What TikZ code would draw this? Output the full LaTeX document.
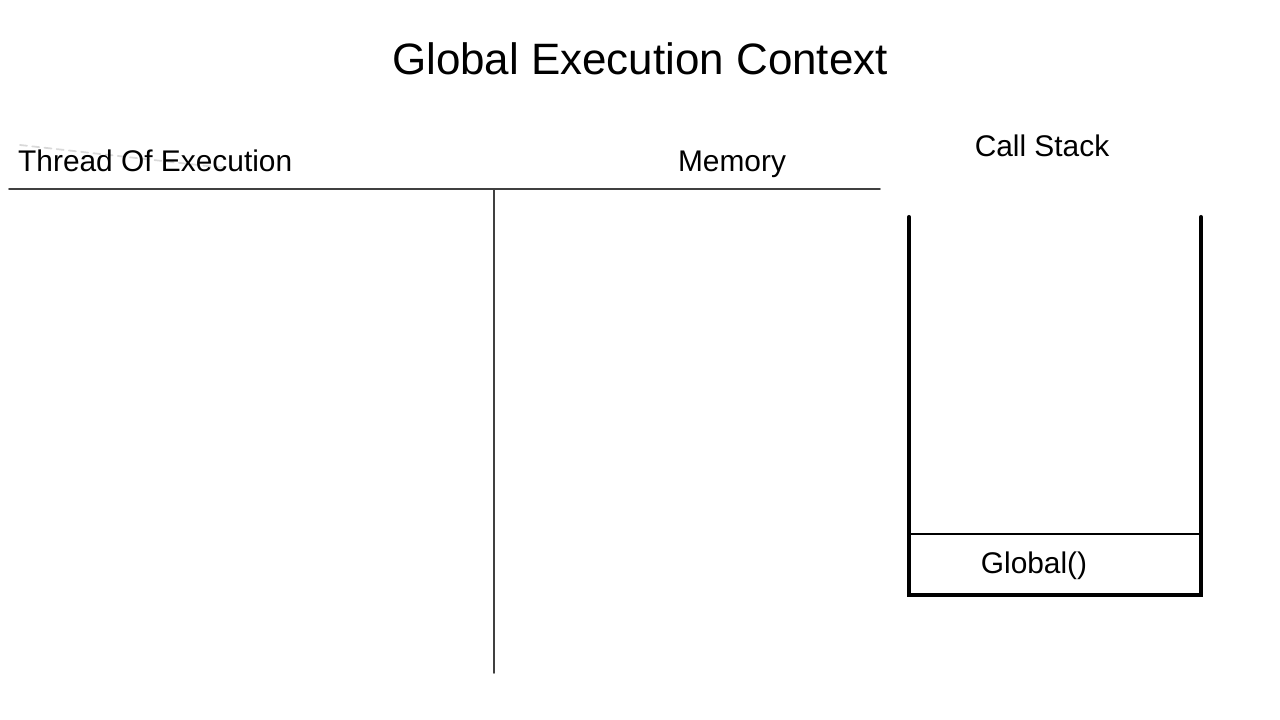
\documentclass[tikz,border=0pt]{standalone}
\usepackage{fontspec}
\setmainfont{Liberation Sans}
\usetikzlibrary{arrows,calc}
\usepackage{tkz-euclide}
\definecolor{RuleClr}{rgb}{0.25,0.25,0.25}
\definecolor{StackClr}{rgb}{0,0,0}
\tikzset{heading/.style={anchor=base,font=\fontsize{17}{20}\selectfont},
  title/.style={anchor=base,font=\fontsize{25}{30}\selectfont}}

\begin{document}
\begin{tikzpicture}[x=0.2mm,y=0.2mm]
\useasboundingbox (0,0) rectangle (1280,720);
\tkzSetUpLine[line width=1pt,color=RuleClr]

\tkzDefPoints{9/531/HL,880/531/HR,494/531/VT,494/47/VB}
\tkzDefPoints{909/503/STL,909/125/SBL,1201/125/SBR,1201/503/STR}
\tkzDefPoints{909/186/DL,1201/186/DR}
\tkzDefPoints{20/575/FA,225/552/FB}

\tkzDrawSegments[color=black!15,dashed,dash pattern=on 4pt off 3pt](FA,FB)
\tkzDrawSegments(HL,HR VT,VB)

\tkzDrawPolySeg[line width=2.3pt,color=StackClr](STL,SBL,SBR,STR)
\tkzDrawSegments[line width=0.8pt,color=StackClr](DL,DR)

\node[title] (title) at (640,645) {Global Execution Context};
\node[heading,anchor=base west] (thread) at (12,548) {Thread Of Execution};
\node[heading] (memory) at (732,548) {Memory};
\node[heading] (callstack) at (1042,563) {Call Stack};
\node[heading] (global) at (1034,146) {Global()};

\end{tikzpicture}
\end{document}
